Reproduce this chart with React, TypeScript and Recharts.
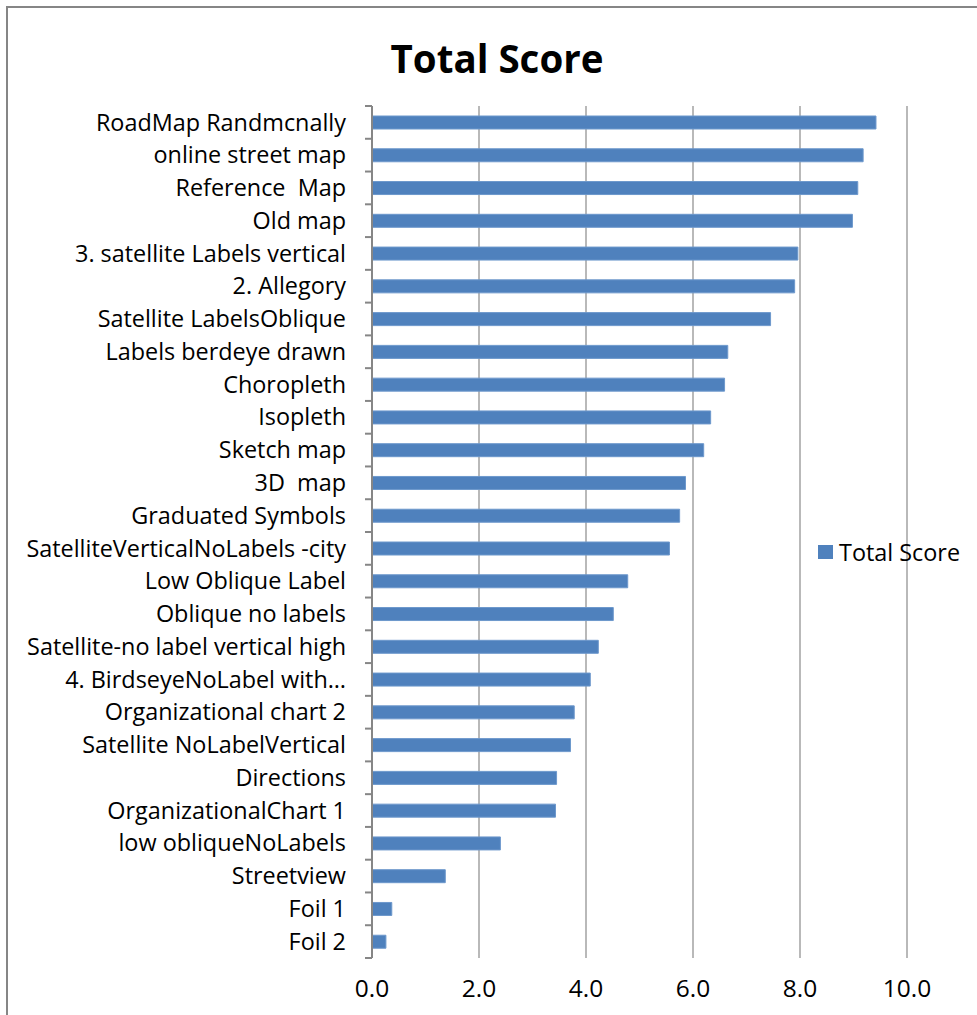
import { BarChart, Bar, XAxis, YAxis, CartesianGrid, Legend } from 'recharts';

const categories = [
  'RoadMap Randmcnally',
  'online street map',
  'Reference  Map',
  'Old map',
  '3. satellite Labels vertical',
  '2. Allegory',
  'Satellite LabelsOblique',
  'Labels berdeye drawn',
  'Choropleth',
  'Isopleth',
  'Sketch map',
  '3D  map',
  'Graduated Symbols',
  'SatelliteVerticalNoLabels -city',
  'Low Oblique Label',
  'Oblique no labels',
  'Satellite-no label vertical high',
  '4. BirdseyeNoLabel with…',
  'Organizational chart 2',
  'Satellite NoLabelVertical',
  'Directions',
  'OrganizationalChart 1',
  'low obliqueNoLabels',
  'Streetview',
  'Foil 1',
  'Foil 2',
];

const totalScore = [
  9.42, 9.18, 9.08, 8.98, 7.96, 7.9, 7.45, 6.65, 6.59, 6.33, 6.2, 5.86, 5.75,
  5.56, 4.78, 4.51, 4.23, 4.08, 3.78, 3.71, 3.45, 3.43, 2.4, 1.37, 0.37, 0.26,
];

const xTicks = [0, 2, 4, 6, 8, 10];

const data = categories.map((name, i) => ({ name, score: totalScore[i] }));

const FONT = '"Open Sans", "Noto Sans", sans-serif';
const AXIS_GREY = '#868686';

function CategoryTick(props: any) {
  const { x, y, payload, index, visibleTicksCount } = props;
  const half = payload.offset || 0;
  const isLast = index === visibleTicksCount - 1;
  return (
    <g>
      <line x1={x + 19} x2={x + 26} y1={y - half} y2={y - half} stroke={AXIS_GREY} strokeWidth={2} />
      {isLast && (
        <line x1={x + 19} x2={x + 26} y1={y + half} y2={y + half} stroke={AXIS_GREY} strokeWidth={2} />
      )}
      <text
        x={x}
        y={y}
        dy="0.35em"
        textAnchor="end"
        fontSize={23.4}
        fill="#000"
        fontFamily={FONT}
        style={{ whiteSpace: 'pre' }}
      >
        {payload.value}
      </text>
    </g>
  );
}

function LegendBox(props: any) {
  const items = props.payload || [];
  return (
    <div>
      {items.map((it: any) => (
        <div key={it.value} style={{ display: 'flex', alignItems: 'center', fontFamily: FONT, fontSize: 23.4, color: '#000' }}>
          <span style={{ display: 'inline-block', width: 15, height: 14, background: it.color, marginRight: 6 }} />
          {it.value}
        </div>
      ))}
    </div>
  );
}

export default function App() {
  return (
    <div style={{ position: 'absolute', left: 0, top: 0, width: 977, height: 1015, overflow: 'hidden', background: '#fff' }}>
      <div
        style={{
          position: 'absolute',
          left: 6,
          top: 6,
          width: 1040,
          height: 1060,
          border: `2px solid ${AXIS_GREY}`,
        }}
      />
      <div
        style={{
          position: 'absolute',
          left: 0,
          width: 994,
          top: 32,
          textAlign: 'center',
          fontFamily: FONT,
          fontWeight: 700,
          fontSize: 38.5,
          lineHeight: '52px',
          color: '#000',
        }}
      >
        Total Score
      </div>
      <div style={{ position: 'absolute', left: 0, top: 0 }}>
        <BarChart
          width={977}
          height={1015}
          data={data}
          layout="vertical"
          margin={{ top: 106, right: 70, left: 0, bottom: 7 }}
          barSize={13}
        >
          <CartesianGrid horizontal={false} stroke="#b9b9b9" strokeWidth={2} />
          <XAxis
            type="number"
            domain={[0, 10]}
            ticks={xTicks}
            tickFormatter={(v: number) => v.toFixed(1)}
            axisLine={false}
            tickLine={false}
            tickSize={0}
            tickMargin={22}
            height={50}
            tick={{ fontSize: 24.5, fill: '#000', fontFamily: FONT }}
          />
          <YAxis
            type="category"
            dataKey="name"
            width={372}
            interval={0}
            axisLine={{ stroke: AXIS_GREY, strokeWidth: 2 }}
            tickLine={false}
            tickSize={0}
            tickMargin={26}
            tick={<CategoryTick />}
          />
          <Legend
            layout="horizontal"
            verticalAlign="middle"
            align="center"
            wrapperStyle={{ left: 818, top: 536, width: 159 }}
            content={<LegendBox />}
          />
          <Bar dataKey="score" name="Total Score" fill="#4f81bd" stroke="#6d98cc" strokeWidth={1} isAnimationActive={false} />
        </BarChart>
      </div>
    </div>
  );
}
